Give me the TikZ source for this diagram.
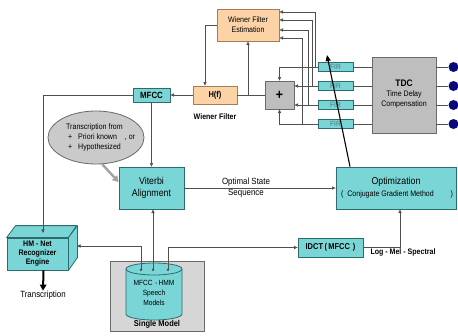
\documentclass[tikz,border=0pt]{standalone}
\usepackage{fontspec}
\setmainfont[FakeStretch=0.88]{Liberation Sans}
\usetikzlibrary{arrows.meta,calc,shapes.geometric}

\definecolor{tealfill}{HTML}{7AD6D6}
\definecolor{tealline}{HTML}{2E6B6E}
\definecolor{orangefill}{HTML}{FBD3A6}
\definecolor{orangeline}{HTML}{A87C50}
\definecolor{boxgray}{HTML}{BEBEBE}
\definecolor{grayline}{HTML}{6A6A6A}
\definecolor{panelgray}{HTML}{D6D6D6}
\definecolor{ellgray}{HTML}{CACACA}
\definecolor{wire}{HTML}{505050}
\definecolor{navy}{HTML}{0B0B78}
\definecolor{firtext}{HTML}{4A7778}

\newcommand\fsz[2]{\fontsize{#1}{#2}\selectfont}

\begin{document}
\begin{tikzpicture}[x=1pt,y=-1pt,
  wireline/.style={draw=wire, line width=0.7pt},
  arr/.style={wireline, -{Triangle[length=3.6pt,width=3.2pt]}},
  box/.style={draw, inner sep=0pt, align=center, line width=0.8pt},
  tealbox/.style={box, fill=tealfill, draw=tealline},
  orangebox/.style={box, fill=orangefill, draw=orangeline},
  graybox/.style={box, fill=boxgray, draw=grayline},
  firbox/.style={tealbox, minimum width=35pt, minimum height=8.5pt,
                 font={\fsz{7.5}{8}}, text=firtext},
  label/.style={inner sep=0pt, align=center},
  dotend/.style={wireline, {Circle[length=2.6pt]}-{Triangle[length=3.6pt,width=3.2pt]}}
]
\useasboundingbox (0,0) rectangle (458,335);
\fill[white] (0,0) rectangle (458,335);

% ---- Wiener filter part ----
\node[orangebox, minimum width=62pt, minimum height=32pt, font={\fsz{8}{10}}] (wfe) at (248,25) {Wiener Filter\\Estimation};
\node[orangebox, minimum width=44pt, minimum height=18pt, font={\fsz{8.5}{10}\bfseries}] (hf) at (215,95) {H(f)};
\node[label, font={\fsz{8}{10}\bfseries}] (wflabel) at (215,117) {Wiener Filter};
\node[graybox, minimum width=29pt, minimum height=28pt, font={\fsz{14}{14}\bfseries}] (plus) at (279.5,95) {+};

% ---- FIR bank and delay compensation ----
\node[firbox] (fir1) at (335.5,67) {FIR};
\node[firbox] (fir2) at (335.5,86) {FIR};
\node[firbox] (fir3) at (335.5,105) {FIR};
\node[firbox] (fir4) at (335.5,124) {FIR};
\node[graybox, minimum width=64pt, minimum height=76pt] (tdc) at (404,95) {};
\node[label, font={\fsz{8}{10}}] (tdctext) at (404,94.5) {{\fsz{9.5}{11}\bfseries TDC}\\Time Delay\\Compensation};
\foreach \i/\y in {1/67,2/86,3/105,4/124}{
  \node[circle, fill=navy, minimum size=10pt, inner sep=0pt] (mic\i) at (453.5,\y) {};
  \draw[wireline] (fir\i.east) -- (fir\i.east -| tdc.west);
  \draw[wireline] (tdc.east |- mic\i) -- (mic\i);
}

% ---- recognition part ----
\node[tealbox, minimum width=37pt, minimum height=14pt, font={\fsz{9}{10}\bfseries}] (mfcc) at (151.5,95) {MFCC};
\node[ellipse, draw=grayline, fill=ellgray, line width=0.8pt, minimum width=96pt, minimum height=53pt, inner sep=0pt] (ell) at (96,137.5) {};
\node[label, align=left, font={\fsz{8}{10}}, anchor=west] (elltext) at (66,137) {Transcription from\\\makebox[12pt][l]{\ +}Priori known\hspace{8pt}, or\\\makebox[12pt][l]{\ +}Hypothesized};
\node[tealbox, minimum width=65pt, minimum height=42pt, font={\fsz{10}{11.5}}] (vit) at (151.5,188) {Viterbi\\Alignment};
\node[tealbox, minimum width=120pt, minimum height=42pt] (opt) at (396,188) {};
\node[label, font={\fsz{10}{11.5}}] (opttitle) at (396,182) {Optimization};
\node[label, font={\fsz{8}{10}}] (optsub) at (397,194) {\makebox[112pt]{(\hspace{4pt}Conjugate Gradient Method\hfill)}};
\node[tealbox, minimum width=65pt, minimum height=19pt, font={\fsz{8.5}{10}\bfseries}] (idct) at (330.5,247.5) {IDCT\,(\,MFCC\,\,)};
\node[label, font={\fsz{8}{10}\bfseries}] (lms) at (403,252) {Log - Mel - Spectral};
\node[label, font={\fsz{9}{11}}] (seq) at (246,187.5) {Optimal State\\Sequence};

% HM-Net recognizer drawn as a block
\node[tealbox, minimum width=61pt, minimum height=32pt] (hm) at (37.5,254) {};
\draw[fill=tealfill, draw=tealline, line width=0.8pt, line join=round]
  (hm.north west) -- ++(9,-12) -- ++(61,0) -- (hm.north east) -- cycle;
\draw[fill=tealfill, draw=tealline, line width=0.8pt, line join=round]
  (hm.north east) -- ++(9,-12) -- ++(0,32) -- (hm.south east) -- cycle;
\node[label, font={\fsz{8}{9}\bfseries}] (hmtext) at (37.5,254) {HM - Net\\Recognizer\\Engine};
\node[label, font={\fsz{9}{11}}] (trans) at (43,295) {Transcription};

% model store
\node[box, fill=panelgray, draw=grayline, minimum width=94pt, minimum height=70pt] (single) at (157,296) {};
\node[label, font={\fsz{8.5}{10}\bfseries}] (singletext) at (157,324) {Single Model};
\fill[tealfill] (126,269) -- (126,314) arc[start angle=180,end angle=360,x radius=28pt,y radius=6pt] -- (182,269) -- cycle;
\draw[draw=tealline, line width=0.8pt] (126,269) -- (126,314) arc[start angle=180,end angle=360,x radius=28pt,y radius=6pt] -- (182,269);
\draw[draw=tealline, fill=tealfill, line width=0.8pt] (154,269) ellipse [x radius=28pt, y radius=6pt];
\node[label, font={\fsz{7.5}{10}}] (cyltext) at (154,293) {MFCC\,\,-\,HMM\\Speech\\Models};

% ---- anchor points ----
\coordinate (c1) at (141,271);
\coordinate (c2) at (153,271);
\coordinate (c3) at (168,271);
\coordinate (hmtop) at (43,233);
\coordinate (hmside) at (77,246);
\coordinate (adapt) at (327,55);
\coordinate (v1) at (315.5,0);
\coordinate (v2) at (312,0);
\coordinate (v3) at (308.5,0);
\coordinate (v4) at (302,0);

% ---- connectors ----
\draw[arr] (wfe.west) -| ([xshift=-10pt]hf.north);
\draw[arr] (hf.west) -- (mfcc.east);
\draw[wireline] (hf.east) -- (plus.west);
\draw[arr] (hf.east -| wfe.south) -- (wfe.south);
\draw[arr] (fir1.west) -| (plus.north);
\draw[arr] (fir2.west) -- (fir2.west -| plus.east);
\draw[arr] (fir3.west) -- (fir3.west -| plus.east);
\draw[arr] (fir4.west) -| (plus.south);
\draw[arr] (fir1.west -| v1) |- ([yshift=13pt]wfe.east);
\draw[arr] (fir2.west -| v2) |- ([yshift=5pt]wfe.east);
\draw[arr] (fir3.west -| v3) |- ([yshift=-5pt]wfe.east);
\draw[arr] (fir4.west -| v4) |- ([yshift=-13pt]wfe.east);

\draw[arr] (mfcc.west) -| (hmtop);
\draw[arr] (mfcc.south) -- (vit.north);
\draw[draw=ellgray!80!black, line width=2.4pt, -{Triangle[length=6pt,width=7pt]}] (ell.-77) -- ([yshift=6pt]vit.west);
\draw[arr] (vit.east) -- (opt.west);
\draw[arr] (idct.east) -| ([xshift=4pt]opt.south);
\draw[dotend] (c3) |- (idct.west);
\draw[dotend] (c1) |- (hmside);
\draw[dotend] (c2) -- (c2 |- vit.south);
\draw[black, line width=2pt, -{Triangle[length=6pt,width=6.5pt]}] ([xshift=6pt]hm.south) -- (trans.north);
\draw[black, line width=1.1pt, -{Triangle[length=6pt,width=5pt]}] ([xshift=-46pt]opt.north) -- (adapt);
\end{tikzpicture}
\end{document}
